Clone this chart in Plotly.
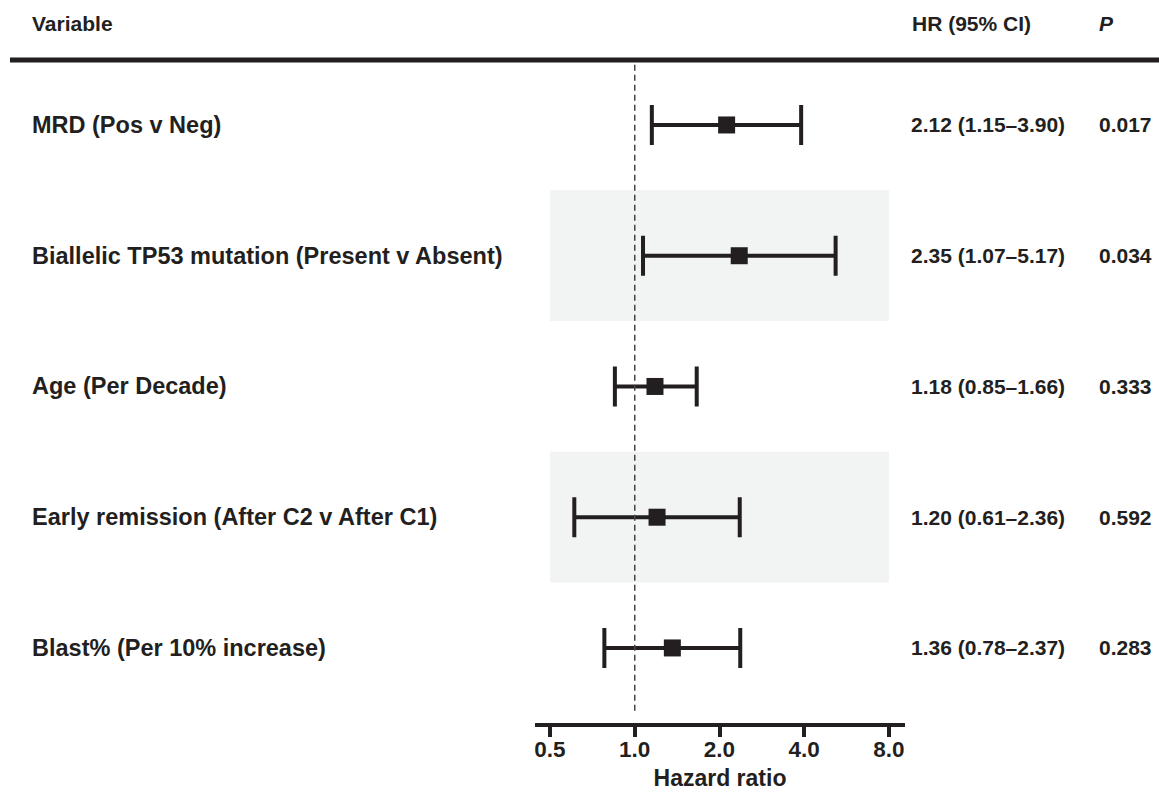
import plotly.graph_objects as go

variables = ["MRD (Pos v Neg)", "Biallelic TP53 mutation (Present v Absent)",
             "Age (Per Decade)", "Early remission (After C2 v After C1)",
             "Blast% (Per 10% increase)"]
hr = [2.12, 2.35, 1.18, 1.20, 1.36]
lower = [1.15, 1.07, 0.85, 0.61, 0.78]
upper = [3.90, 5.17, 1.66, 2.36, 2.37]
pvals = ["0.017", "0.034", "0.333", "0.592", "0.283"]
tick_vals = [0.5, 1.0, 2.0, 4.0, 8.0]
tick_text = ["0.5", "1.0", "2.0", "4.0", "8.0"]
shaded_rows = [1, 3]

INK = "#231f20"
FONT = "Liberation Sans"
L, R, T, B = 535, 254, 63, 69
W, H = 1159, 792
PW, PH = W - L - R, H - T - B

def px_x(p):
    return (p - L) / PW

def px_y(p):
    return (H - B - p) / PH

rows = list(range(len(variables)))
ci_labels = [f"{h:.2f} ({lo:.2f}–{up:.2f})" for h, lo, up in zip(hr, lower, upper)]

fig = go.Figure()
fig.add_trace(go.Scatter(
    x=hr, y=rows, mode="markers",
    marker=dict(symbol="square", size=17, color=INK),
    error_x=dict(type="data", symmetric=False,
                 array=[u - h for u, h in zip(upper, hr)],
                 arrayminus=[h - l for h, l in zip(hr, lower)],
                 color=INK, thickness=4, width=20),
    showlegend=False, hoverinfo="skip"))

shapes = []
for r in shaded_rows:
    shapes.append(dict(type="rect", xref="x", yref="y", x0=tick_vals[0], x1=tick_vals[-1],
                       y0=r - 0.5, y1=r + 0.5, fillcolor="#f2f3f3", line=dict(width=0),
                       layer="below"))
shapes.append(dict(type="line", xref="x", yref="y", x0=1, x1=1, y0=-0.46, y1=4.49,
                   line=dict(color="#444444", width=1.5, dash="6px,4px")))
shapes.append(dict(type="line", xref="paper", yref="paper", x0=px_x(10), x1=px_x(1159),
                   y0=px_y(60), y1=px_y(60), line=dict(color=INK, width=5)))

ann = []
hdr = dict(family=FONT, size=21, color=INK, weight="bold")
ann.append(dict(x=px_x(30), y=px_y(23), xref="paper", yref="paper", text="Variable",
                showarrow=False, xanchor="left", yanchor="middle", font=hdr))
ann.append(dict(x=px_x(910), y=px_y(23), xref="paper", yref="paper", text="HR (95% CI)",
                showarrow=False, xanchor="left", yanchor="middle", font=hdr))
ann.append(dict(x=px_x(1097), y=px_y(23), xref="paper", yref="paper", text="<i>P</i>",
                showarrow=False, xanchor="left", yanchor="middle", font=hdr))
for r, v, c, p in zip(rows, variables, ci_labels, pvals):
    ann.append(dict(x=px_x(30), y=r, xref="paper", yref="y", text=v, showarrow=False,
                    xanchor="left", yanchor="middle",
                    font=dict(family=FONT, size=23.5, color=INK, weight="bold")))
    ann.append(dict(x=px_x(909), y=r, xref="paper", yref="y", text=c, showarrow=False,
                    xanchor="left", yanchor="middle",
                    font=dict(family=FONT, size=21, color=INK, weight="bold")))
    ann.append(dict(x=px_x(1097), y=r, xref="paper", yref="y", text=p, showarrow=False,
                    xanchor="left", yanchor="middle",
                    font=dict(family=FONT, size=21, color=INK, weight="bold")))

fig.update_layout(
    width=W, height=H, margin=dict(l=L, r=R, t=T, b=B, autoexpand=False),
    paper_bgcolor="white", plot_bgcolor="white",
    shapes=shapes, annotations=ann,
    xaxis=dict(type="log", range=[-0.35431, 0.95992], showgrid=False, zeroline=False,
               automargin=False,
               showline=True, linewidth=4, linecolor=INK,
               ticks="outside", ticklen=10, tickwidth=4, tickcolor=INK,
               tickvals=tick_vals, ticktext=tick_text, ticklabelstandoff=-7,
               tickfont=dict(family=FONT, size=22.5, color=INK, weight="bold"),
               title=dict(text="Hazard ratio", standoff=10,
                          font=dict(family=FONT, size=23, color=INK, weight="bold"))),
    yaxis=dict(range=[4.574, -0.474], visible=False, showgrid=False, zeroline=False,
               automargin=False),
)
fig.write_html("out.html")
